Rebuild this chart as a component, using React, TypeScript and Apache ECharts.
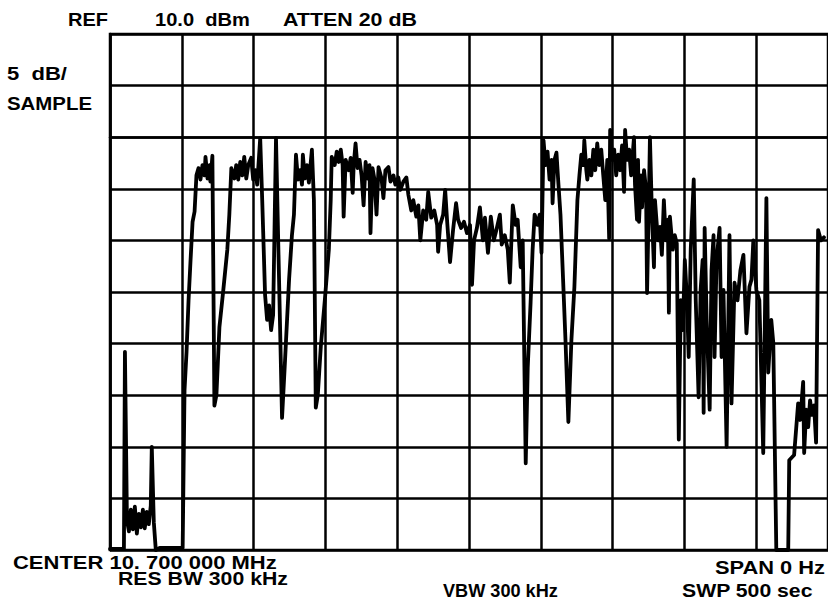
import React, { useEffect, useRef } from "react";
import * as echarts from "echarts";

// Trace: zero-span sweep, time (s) vs level (dBm)
const timeSec = [
  0, 9.7, 10.4, 11.8, 13.2, 14.5, 15.9, 17.3, 18.7, 20.1, 21.5, 22.9, 24.2, 25.6, 27.0, 28.4, 29.1, 30.5, 31.9, 34.6,
  50.6, 51.9, 53.3, 54.7, 56.1, 57.5, 58.9, 60.2, 61.6, 63.0, 64.4, 65.8, 66.5, 67.9, 69.3, 69.9, 71.3, 72.7, 74.1, 76.2,
  78.9, 81.7, 83.1, 84.5, 86.6, 87.9, 89.3, 90.7, 92.1, 93.5, 94.9, 96.3, 98.3, 99.7, 101.1, 102.5, 104.6, 106.0, 108.0, 109.4,
  110.8, 112.2, 113.6, 115.6, 119.8, 121.9, 124.7, 126.7, 128.1, 129.5, 130.9, 132.3, 133.7, 134.3, 135.7, 137.1, 138.5, 140.6, 142.0, 143.3,
  144.7, 146.8, 149.6, 152.4, 153.7, 154.4, 156.5, 157.9, 159.3, 160.7, 162.0, 162.7, 164.1, 166.2, 167.6, 169.0, 169.7, 171.0, 172.4, 173.8,
  175.2, 176.6, 178.0, 179.4, 180.7, 181.4, 182.8, 184.2, 185.6, 187.0, 189.1, 190.4, 191.8, 193.9, 195.3, 197.4, 198.7, 200.8, 202.2, 204.3,
  206.4, 207.8, 209.8, 211.2, 213.3, 214.7, 216.1, 218.1, 220.2, 221.6, 223.7, 225.8, 227.8, 228.5, 229.9, 232.0, 233.4, 234.8, 236.8, 238.9,
  241.0, 242.4, 244.5, 246.5, 248.6, 250.7, 252.1, 253.5, 255.5, 257.6, 259.7, 261.1, 263.2, 265.2, 267.3, 269.4, 271.5, 272.8, 274.9, 277.0,
  278.4, 279.8, 280.5, 282.5, 283.9, 286.0, 287.4, 289.5, 290.9, 292.9, 294.3, 295.7, 297.8, 299.2, 300.5, 301.9, 303.3, 304.7, 306.1, 307.5,
  308.2, 309.5, 310.9, 312.3, 313.7, 315.8, 317.2, 319.2, 321.3, 323.4, 325.5, 326.9, 328.2, 329.6, 330.3, 331.7, 332.4, 333.8, 335.2, 336.6,
  337.9, 339.3, 340.7, 342.1, 343.5, 344.9, 346.3, 347.6, 348.3, 349.7, 351.1, 352.5, 353.9, 355.3, 356.6, 358.0, 358.7, 360.1, 361.5, 362.9,
  364.9, 365.6, 367.0, 367.7, 368.4, 369.8, 370.5, 371.9, 373.3, 374.0, 375.4, 376.0, 377.4, 378.8, 379.5, 381.6, 383.0, 384.3, 385.7, 387.1,
  388.5, 389.2, 389.9, 391.9, 393.3, 394.7, 396.1, 397.5, 398.9, 400.3, 401.7, 403.0, 404.4, 406.5, 407.9, 409.9, 411.3, 412.7, 413.4, 414.1,
  415.5, 417.6, 418.9, 420.3, 421.0, 422.4, 424.5, 425.9, 427.2, 429.4, 431.4, 432.8, 434.9, 437.0, 439.0, 441.1, 443.2, 445.3, 446.7, 448.0,
  450.1, 452.2, 454.9, 457.1, 458.4, 460.5, 461.9, 464.0, 467.4, 472.3, 473.0, 476.4, 479.2, 480.6, 482.0, 482.7, 483.4, 484.8, 486.2, 487.5,
  488.9, 490.3, 491.7, 493.1, 495.1, 497.2,
];

const levelDbm = [
  -39.9, -39.9, -20.8, -37.1, -38.2, -36.1, -38.0, -35.8, -38.4, -36.5, -37.8, -36.1, -37.9, -36.3, -37.5, -35.7, -30.0, -37.3, -40.0, -39.8,
  -39.8, -24.5, -20.8, -15.8, -11.9, -8.2, -7.2, -3.7, -3.0, -4.1, -2.7, -3.7, -1.9, -4.0, -2.7, -4.3, -1.8, -26.0, -25.0, -18.4,
  -14.8, -10.9, -7.5, -3.0, -4.0, -2.7, -4.1, -2.4, -3.7, -1.9, -4.0, -2.7, -2.0, -4.1, -3.2, -4.6, -0.1, -6.1, -15.3, -17.7,
  -16.3, -18.7, -17.2, -0.1, -27.2, -21.6, -13.8, -9.5, -7.5, -1.7, -4.1, -3.2, -4.6, -1.7, -4.0, -2.7, -4.4, -1.2, -6.1, -26.2,
  -25.0, -20.3, -15.8, -10.9, -6.1, -1.9, -2.7, -1.4, -2.4, -1.2, -2.7, -7.7, -2.2, -3.2, -2.0, -5.4, -2.7, -0.6, -3.0, -2.2,
  -3.7, -6.6, -2.4, -4.0, -2.7, -9.3, -3.0, -4.1, -7.5, -2.9, -4.0, -5.9, -3.2, -2.9, -4.3, -3.7, -4.6, -3.9, -5.1, -4.3,
  -3.9, -5.6, -7.1, -6.1, -7.7, -6.6, -10.0, -7.1, -8.0, -5.3, -7.8, -7.1, -8.5, -11.1, -8.5, -7.5, -5.1, -8.2, -12.1, -9.0,
  -6.4, -8.0, -8.8, -8.2, -9.3, -8.5, -14.3, -10.0, -8.8, -6.8, -10.0, -7.8, -11.2, -7.7, -10.0, -8.8, -7.5, -10.4, -9.5, -10.9,
  -14.1, -9.0, -6.6, -8.5, -8.0, -12.6, -10.0, -31.6, -22.3, -16.0, -10.9, -7.5, -8.5, -7.5, -11.2, -0.3, -2.7, -1.4, -4.1, -2.2,
  -6.4, -2.2, -1.5, -4.6, -7.5, -14.8, -19.7, -27.6, -19.7, -14.5, -6.1, -3.7, -1.7, -2.7, -0.3, -3.2, -4.1, -2.2, -3.7, -1.2,
  -3.2, -0.6, -2.7, -1.2, -3.7, -6.1, -2.2, -9.8, 0.7, -2.2, -1.2, -3.7, -1.7, -3.2, -0.8, -5.3, 0.7, -2.2, -1.2, -3.7,
  0.0, -4.6, -8.0, -2.2, -8.2, -3.7, -6.8, -3.2, -5.1, -15.1, -5.1, 0.0, -7.5, -12.6, -6.1, -10.0, -8.7, -11.4, -6.1, -10.0,
  -8.0, -17.0, -7.7, -10.9, -9.5, -10.3, -29.3, -15.8, -18.7, -11.9, -15.5, -21.3, -10.9, -4.1, -15.8, -25.2, -14.8, -11.9, -26.7, -8.8,
  -17.7, -26.4, -12.9, -9.5, -21.3, -11.9, -8.8, -21.3, -14.8, -30.0, -9.5, -25.8, -14.1, -15.8, -12.9, -11.4, -19.0, -14.5, -13.8, -10.0,
  -14.8, -15.8, -30.6, -5.9, -22.8, -17.7, -19.9, -40.0, -40.0, -40.0, -31.3, -30.8, -25.8, -27.4, -25.0, -23.7, -30.6, -26.4, -28.1, -25.5,
  -26.9, -26.0, -29.6, -9.0, -10.0, -9.7,
];

// Screen annotations
const topLabels = ["REF", "10.0  dBm", "ATTEN 20 dB"];
const sideLabels = ["5  dB/", "SAMPLE"];
const bottomLabels = ["CENTER 10. 700 000 MHz", "RES BW 300 kHz", "VBW 300 kHz", "SPAN 0 Hz", "SWP 500 sec"];

// Axis settings (10 divisions each)
const REF_LEVEL = 10;
const DB_PER_DIV = 5;
const DIVISIONS = 10;
const SWEEP_TIME = 500;

// layout: [x, yCenter, targetWidth]
const topLayout = [[68, 19, 40], [155, 19, 95], [283, 19, 134]];
const sideLayout = [[7, 73, 60], [7, 103, 85]];
const bottomLayout = [[13, 562, 264], [118, 578, 170], [443, 590, 115], [715, 567, 110], [682, 590, 131]];

const FONT_SIZE = 19;
const FONT_FAMILY = '"Liberation Sans", Arial, Helvetica, sans-serif';

function measure(text: string): number {
  const ctx = document.createElement("canvas").getContext("2d");
  if (!ctx) return text.length * FONT_SIZE * 0.6;
  ctx.font = `bold ${FONT_SIZE}px ${FONT_FAMILY}`;
  return ctx.measureText(text).width;
}

function makeTexts(labels: string[], layout: number[][]) {
  return labels.map((t, i) => {
    const [x, y, w] = layout[i];
    const m = measure(t);
    return {
      type: "text",
      x,
      y,
      scaleX: m > 0 ? w / m : 1,
      silent: true,
      style: {
        text: t,
        fill: "#000",
        fontSize: FONT_SIZE,
        fontWeight: "bold",
        fontFamily: FONT_FAMILY,
        align: "left",
        verticalAlign: "middle",
      },
    };
  });
}

export default function App() {
  const ref = useRef<HTMLDivElement>(null);

  useEffect(() => {
    if (!ref.current) return;
    const chart = echarts.init(ref.current, undefined, { renderer: "svg" });
    const data = timeSec.map((t, i) => [t, levelDbm[i]]);
    const gridLine = { show: true, lineStyle: { color: "#000", width: 2.5, type: "solid" as const } };

    chart.setOption({
      animation: false,
      backgroundColor: "#fff",
      grid: {
        left: 110,
        top: 34,
        width: 722,
        height: 516,
        show: true,
        borderColor: "#000",
        borderWidth: 2.5,
        containLabel: false,
      },
      xAxis: {
        type: "value",
        min: 0,
        max: SWEEP_TIME,
        interval: SWEEP_TIME / DIVISIONS,
        axisLabel: { show: false },
        axisTick: { show: false },
        axisLine: { show: true, lineStyle: { color: "#000", width: 2.5 } },
        splitLine: gridLine,
      },
      yAxis: {
        type: "value",
        min: REF_LEVEL - DB_PER_DIV * DIVISIONS,
        max: REF_LEVEL,
        interval: DB_PER_DIV,
        axisLabel: { show: false },
        axisTick: { show: false },
        axisLine: { show: true, lineStyle: { color: "#000", width: 2.5 } },
        splitLine: gridLine,
      },
      series: [
        {
          type: "line",
          data,
          showSymbol: false,
          symbol: "none",
          lineStyle: { color: "#000", width: 3.8, join: "round", cap: "round" },
          clip: false,
          z: 5,
        },
      ],
      graphic: [
        ...makeTexts(topLabels, topLayout),
        ...makeTexts(sideLabels, sideLayout),
        ...makeTexts(bottomLabels, bottomLayout),
      ],
    });

    return () => chart.dispose();
  }, []);

  return (
    <div
      ref={ref}
      style={{ position: "absolute", left: 0, top: 0, width: 828, height: 603, background: "#fff" }}
    />
  );
}
